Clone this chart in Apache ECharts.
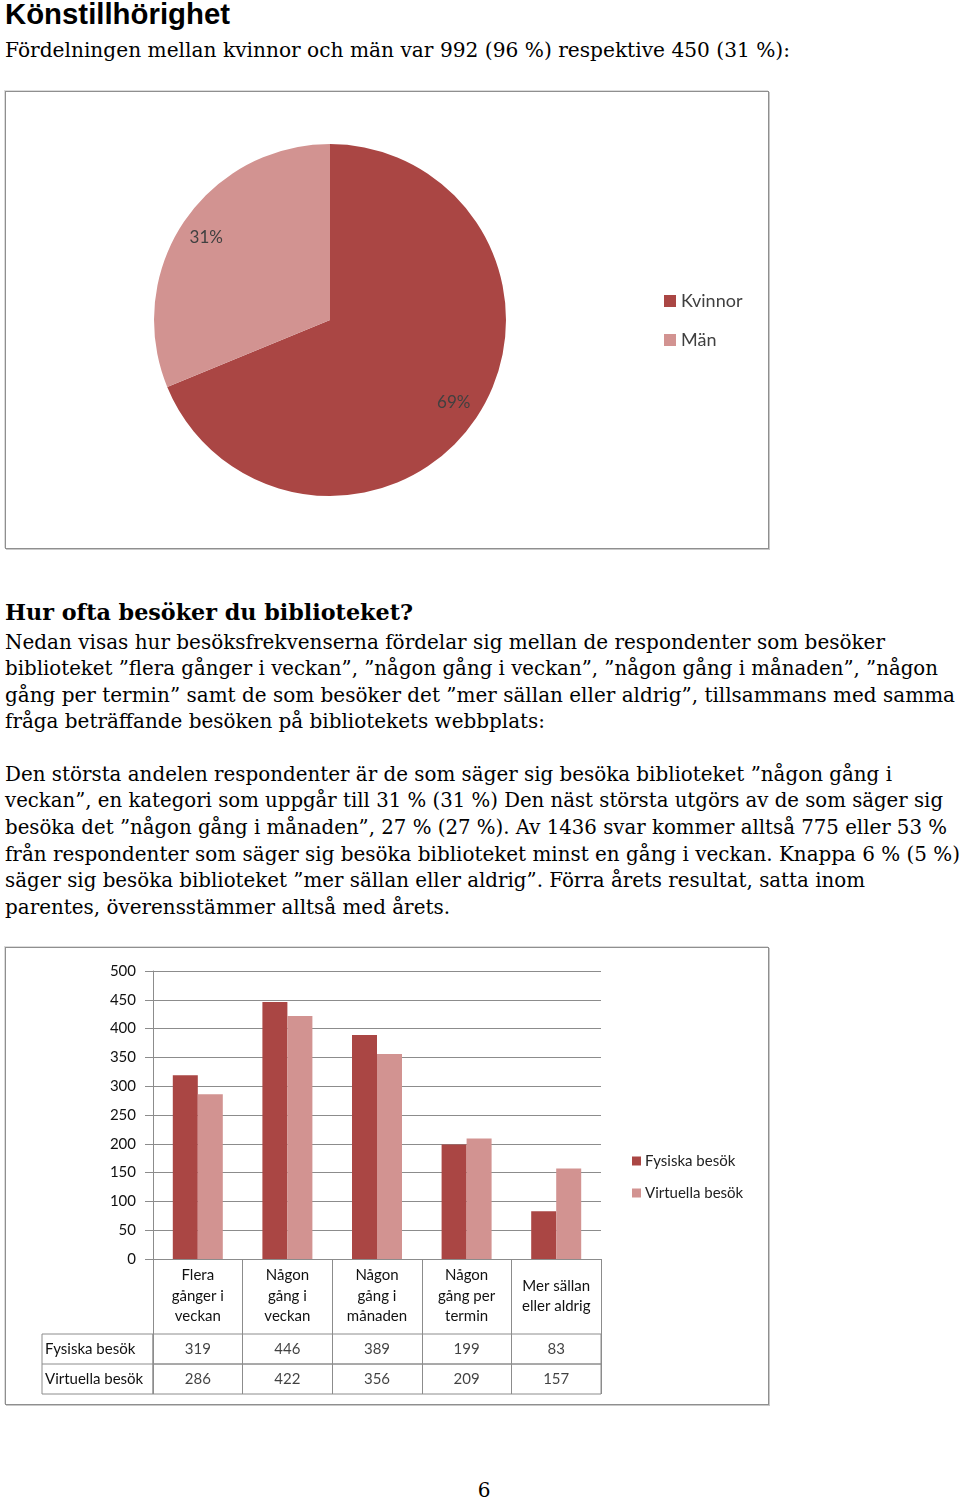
<!DOCTYPE html>
<html>
<head>
<meta charset="utf-8">
<script src="https://cdn.jsdelivr.net/npm/echarts@6/dist/echarts.min.js"></script>
<style>
  html, body { margin:0; padding:0; background:#fff; }
  body { width:960px; height:1501px; position:relative; overflow:hidden; }
  .ln { position:absolute; left:5px; white-space:nowrap; display:inline-block; transform-origin:0 50%; color:#000; }
  .serif { font-family:"DejaVu Serif", "Liberation Serif", serif; font-size:20px; line-height:26px; height:26px; }
  .frame { position:absolute; box-sizing:border-box; border:1px solid #8f8f8f; box-shadow:1px 1px 0 #c9c9c9, -1px -1px 0 #dcdcdc; }
  .chart { position:absolute; }
</style>
</head>
<body>
<div class="ln fit" data-w="225" style="top:-3px;font-family:'Liberation Sans',Arial,sans-serif;font-weight:bold;font-size:29px;line-height:34px;">Könstillhörighet</div>
<div class="ln serif fit" data-w="785" style="top:37px;">Fördelningen mellan kvinnor och män var 992 (96 %) respektive 450 (31 %):</div>

<div class="frame" style="left:5px;top:91px;width:764px;height:458px;"></div>
<div id="pie" class="chart" style="left:5px;top:91px;width:764px;height:458px;"></div>

<div class="ln fit" data-w="408" style="top:597px;font-family:'DejaVu Serif',serif;font-weight:bold;font-size:22px;line-height:30px;">Hur ofta besöker du biblioteket?</div>
<div class="ln serif fit" data-w="880" style="top:629px;">Nedan visas hur besöksfrekvenserna fördelar sig mellan de respondenter som besöker</div>
<div class="ln serif fit" data-w="933" style="top:655px;">biblioteket ”flera gånger i veckan”, ”någon gång i veckan”, ”någon gång i månaden”, ”någon</div>
<div class="ln serif fit" data-w="950" style="top:682px;">gång per termin” samt de som besöker det ”mer sällan eller aldrig”, tillsammans med samma</div>
<div class="ln serif fit" data-w="540" style="top:708px;">fråga beträffande besöken på bibliotekets webbplats:</div>

<div class="ln serif fit" data-w="887" style="top:761px;">Den största andelen respondenter är de som säger sig besöka biblioteket ”någon gång i</div>
<div class="ln serif fit" data-w="938" style="top:787px;">veckan”, en kategori som uppgår till 31 % (31 %) Den näst största utgörs av de som säger sig</div>
<div class="ln serif fit" data-w="942" style="top:814px;">besöka det ”någon gång i månaden”, 27 % (27 %). Av 1436 svar kommer alltså 775 eller 53 %</div>
<div class="ln serif fit" data-w="955" style="top:841px;">från respondenter som säger sig besöka biblioteket minst en gång i veckan. Knappa 6 % (5 %)</div>
<div class="ln serif fit" data-w="860" style="top:867px;">säger sig besöka biblioteket ”mer sällan eller aldrig”. Förra årets resultat, satta inom</div>
<div class="ln serif fit" data-w="445" style="top:894px;">parentes, överensstämmer alltså med årets.</div>

<div class="frame" style="left:5px;top:947px;width:764px;height:458px;"></div>
<div id="bar" class="chart" style="left:5px;top:947px;width:764px;height:458px;"></div>

<div style="position:absolute;left:0;width:968px;top:1476px;text-align:center;font-family:'DejaVu Serif',serif;font-size:20px;line-height:28px;">6</div>

<script>
// ---------- data ----------
const pieNames = ['Kvinnor', 'Män'];
const pieValues = [992, 450];

const categories = ['Flera\ngånger i\nveckan', 'Någon\ngång i\nveckan', 'Någon\ngång i\nmånaden', 'Någon\ngång per\ntermin', 'Mer sällan\neller aldrig'];
const seriesNames = ['Fysiska besök', 'Virtuella besök'];
const fysiska = [319, 446, 389, 199, 83];
const virtuella = [286, 422, 356, 209, 157];
const yMin = 0, yMax = 500, yStep = 50;

// ---------- text fitting ----------
document.querySelectorAll('.fit').forEach(el => {
  const w = parseFloat(el.dataset.w);
  const a = el.getBoundingClientRect().width;
  if (a > 0) el.style.transform = 'scaleX(' + (w / a) + ')';
});

const DARK = '#AA4644';
const LIGHT = '#D29391';
const GRID = '#8c8c8c';
const FONT = 'Lato, "Open Sans", sans-serif';

// ---------- pie ----------
const pie = echarts.init(document.getElementById('pie'), null, { renderer: 'canvas' });
const pieData = pieNames.map((n, i) => ({ name: n, value: pieValues[i] }));
pie.setOption({
  animation: false,
  color: [DARK, LIGHT],
  legend: {
    data: pieNames, orient: 'vertical', left: 654, top: 196,
    icon: 'rect', itemWidth: 12, itemHeight: 12, itemGap: 21,
    textStyle: { fontFamily: FONT, fontSize: 18, lineHeight: 18, color: '#404040', padding: [0, 0, 0, 0] }
  },
  series: [
    {
      type: 'pie', center: [325, 229], radius: [0, 176], startAngle: 90, clockwise: true,
      label: { show: false }, labelLine: { show: false }, silent: true,
      data: pieData
    },
    {
      type: 'pie', center: [325, 229], radius: [116, 176], startAngle: 90, clockwise: true,
      silent: true, itemStyle: { color: 'rgba(0,0,0,0)' },
      label: {
        show: true, position: 'inside', fontFamily: FONT, fontSize: 17, color: '#404040',
        formatter: p => Math.round(p.percent) + '%'
      },
      labelLine: { show: false },
      data: pieData
    }
  ]
});

// ---------- bar ----------
const bar = echarts.init(document.getElementById('bar'), null, { renderer: 'canvas' });
const GL = 148, GW = 448;
const tableRows = [fysiska, virtuella];
const rowGrids = [
  { left: GL, top: 387, width: GW, height: 30, show: true, borderColor: GRID, borderWidth: 1 },
  { left: GL, top: 417, width: GW, height: 30, show: true, borderColor: GRID, borderWidth: 1 }
];
const xAxes = [{
  type: 'category', gridIndex: 0, data: categories,
  axisLine: { show: true, lineStyle: { color: GRID } },
  axisTick: { show: true, length: 75, interval: 0, lineStyle: { color: GRID } },
  axisLabel: { interval: 0, verticalAlign: 'middle', margin: 37, lineHeight: 20.5, fontSize: 15, fontFamily: FONT, color: '#111' }
}];
const yAxes = [{
  type: 'value', gridIndex: 0, min: yMin, max: yMax, interval: yStep,
  axisLine: { show: true, lineStyle: { color: GRID } },
  axisTick: { show: true, length: 8, lineStyle: { color: GRID } },
  splitLine: { show: true, lineStyle: { color: GRID } },
  axisLabel: { margin: 17, fontSize: 15, fontFamily: FONT, color: '#111' }
}];
const extraSeries = [];
tableRows.forEach((row, r) => {
  xAxes.push({
    type: 'category', gridIndex: r + 1, data: categories,
    axisLine: { show: false }, axisTick: { show: false }, axisLabel: { show: false },
    splitLine: { show: true, interval: 0, lineStyle: { color: GRID } }
  });
  yAxes.push({
    type: 'category', gridIndex: r + 1, data: [seriesNames[r]],
    axisLine: { show: false }, axisTick: { show: false }, splitLine: { show: false },
    axisLabel: { align: 'left', margin: GL - 40, fontSize: 15, fontFamily: FONT, color: '#111' }
  });
  extraSeries.push({
    type: 'scatter', xAxisIndex: r + 1, yAxisIndex: r + 1, silent: true,
    symbolSize: 1, itemStyle: { color: 'rgba(0,0,0,0)' },
    label: { show: true, position: 'inside', fontSize: 15, fontFamily: FONT, color: '#111', formatter: p => p.value[2] },
    data: row.map((v, i) => [i, 0, v])
  });
});

bar.setOption({
  animation: false,
  color: [DARK, LIGHT],
  grid: [{ left: GL, top: 24, width: GW, height: 288 }].concat(rowGrids),
  legend: {
    data: seriesNames, orient: 'vertical', left: 622, top: 201,
    icon: 'rect', itemWidth: 9, itemHeight: 9, itemGap: 16,
    textStyle: { fontFamily: FONT, fontSize: 15, lineHeight: 16, color: '#222', padding: [0, 0, 0, -1] }
  },
  xAxis: xAxes,
  yAxis: yAxes,
  graphic: [
    { type: 'rect', shape: { x: 37, y: 387, width: GL - 37, height: 60 }, style: { fill: 'none', stroke: GRID, lineWidth: 1 }, silent: true },
    { type: 'line', shape: { x1: 37, y1: 417, x2: GL, y2: 417 }, style: { stroke: GRID, lineWidth: 1 }, silent: true }
  ],
  series: [
    { name: seriesNames[0], type: 'bar', data: fysiska, barWidth: 25, barGap: '0%', itemStyle: { color: DARK } },
    { name: seriesNames[1], type: 'bar', data: virtuella, barWidth: 25, barGap: '0%', itemStyle: { color: LIGHT } }
  ].concat(extraSeries)
});
</script>
</body>
</html>
